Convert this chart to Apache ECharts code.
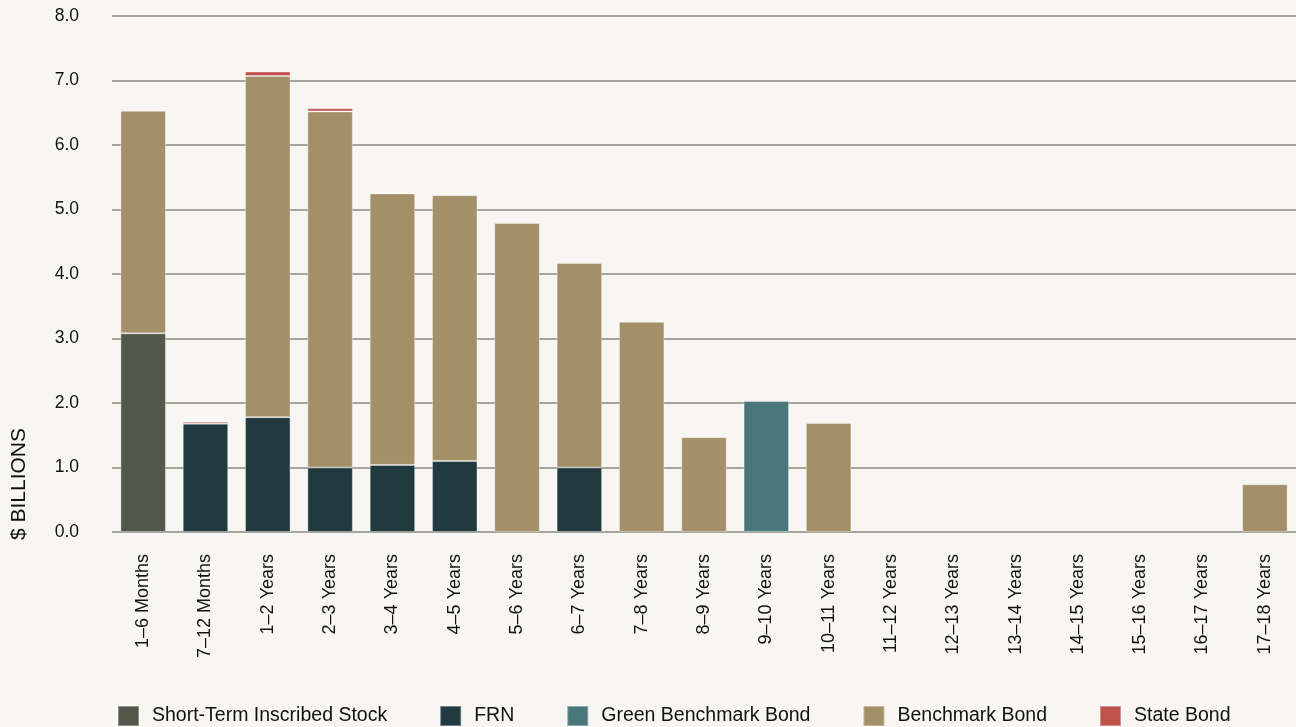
<!DOCTYPE html>
<html>
<head>
<meta charset="utf-8">
<script src="https://cdn.jsdelivr.net/npm/echarts@6/dist/echarts.min.js"></script>
<style>
html,body{margin:0;padding:0;background:#f7f6f2;}
#chart{width:1296px;height:727px;}
</style>
</head>
<body>
<div id="chart"></div>
<script>
const categories = ['1–6 Months','7–12 Months','1–2 Years','2–3 Years','3–4 Years','4–5 Years','5–6 Years','6–7 Years','7–8 Years','8–9 Years','9–10 Years','10–11 Years','11–12 Years','12–13 Years','13–14 Years','14–15 Years','15–16 Years','16–17 Years','17–18 Years'];
const shortTermInscribed = [3.08,0,0,0,0,0,0,0,0,0,0,0,0,0,0,0,0,0,0];
const frn = [0,1.68,1.78,1.0,1.04,1.10,0,1.0,0,0,0,0,0,0,0,0,0,0,0];
const greenBenchmark = [0,0,0,0,0,0,0,0,0,0,2.03,0,0,0,0,0,0,0,0];
const benchmark = [3.45,0,5.29,5.52,4.21,4.12,4.79,3.17,3.26,1.47,0,1.69,0,0,0,0,0,0,0.74];
const stateBond = [0,0.03,0.07,0.05,0.01,0,0,0,0,0,0,0,0,0,0,0,0,0,0];
const yTicks = [0,1,2,3,4,5,6,7,8];

const names = ['Short-Term Inscribed Stock','FRN','Green Benchmark Bond','Benchmark Bond','State Bond'];
const colors = ['#52574a','#213a40','#4a777a','#a39069','#c0524b'];
const datas = [shortTermInscribed, frn, greenBenchmark, benchmark, stateBond];

const chart = echarts.init(document.getElementById('chart'));
chart.setOption({
  backgroundColor:'#f7f6f2',
  animation:false,
  textStyle:{fontFamily:'Liberation Sans, Arial, sans-serif'},
  grid:{left:112,right:0,top:16,bottom:195,containLabel:false},
  legend:{
    left:112, top:700, itemWidth:21, itemHeight:20, itemGap:52,
    icon:'rect',
    textStyle:{fontSize:19.5,color:'#111',padding:[0,0,0,8]},
    data:names
  },
  graphic:[{
    type:'text', left:9, top:428, rotation:Math.PI/2,
    style:{text:'$ BILLIONS', font:'21px Liberation Sans, Arial, sans-serif', fill:'#111'}
  }],
  xAxis:{
    type:'category', data:categories,
    axisLine:{show:false}, axisTick:{show:false},
    axisLabel:{rotate:90, margin:22, fontSize:18, color:'#111', interval:0}
  },
  yAxis:{
    type:'value', min:0, max:8, interval:1,
    axisLine:{show:false}, axisTick:{show:false},
    axisLabel:{formatter:v=>yTicks.includes(v)?v.toFixed(1):'', fontSize:17.5, color:'#111', margin:33},
    splitLine:{lineStyle:{color:'#8a8a80',width:1.5}}
  },
  series: names.map((n,i)=>({
    name:n, type:'bar', stack:'total', barCategoryGap:'27%',
    data:datas[i].map(v=>v===0?null:v),
    itemStyle:{color:colors[i], borderColor:'rgba(255,255,255,0.35)', borderWidth:1}
  }))
});
</script>
</body>
</html>
